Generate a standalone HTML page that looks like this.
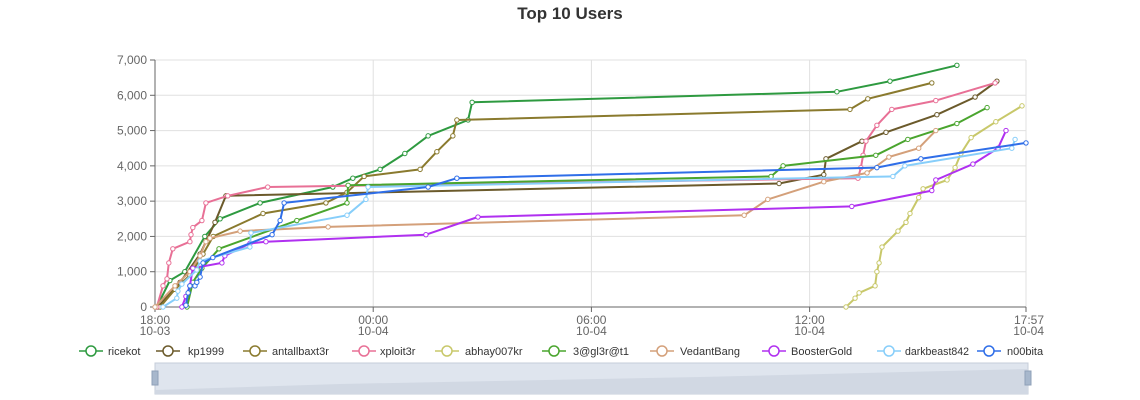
<!DOCTYPE html>
<html><head><meta charset="utf-8"><style>
body{margin:0;background:#fff;font-family:"Liberation Sans",sans-serif}
#wrap{position:relative;width:1140px;height:400px;overflow:hidden}
</style></head><body>
<div id="wrap">
<svg id="svg" width="1140" height="400" xmlns="http://www.w3.org/2000/svg"></svg>
</div>
<script>
const seriesNames=["ricekot","kp1999","antallbaxt3r","xploit3r","abhay007kr","3@gl3r@t1","VedantBang","BoosterGold","darkbeast842","n00bita"];
const seriesColors=["#2e9a40","#6b5a2b","#8a7a2e","#e87096","#c8c86a","#4aa52e","#d4a07a","#b030f0","#87cefa","#2f6ee8"];
const yTicks=[0,1000,2000,3000,4000,5000,6000,7000];
const xTickHours=[0,6,12,18,23.95];
const xTickLabels=[["18:00","10-03"],["00:00","10-04"],["06:00","10-04"],["12:00","10-04"],["17:57","10-04"]];
const hRicekot=[0.05,0.41,0.82,1.37,1.79,2.89,4.89,5.44,6.19,6.87,7.51,8.61,8.72,18.75,20.21,22.05];
const vRicekot=[0,750,1000,2000,2500,2950,3400,3650,3900,4350,4850,5300,5800,6100,6400,6850];
const hKp=[0.08,0.69,1.24,1.65,1.95,17.16,18.39,18.45,19.44,20.1,21.5,22.55,23.15];
const vKp=[0,700,1500,2400,3150,3500,3750,4200,4700,4950,5450,5950,6400];
const hAnt=[0.14,0.55,0.96,1.32,1.6,2.97,4.7,5.28,5.75,7.29,7.75,8.19,8.3,19.11,19.6,21.36];
const vAnt=[0,500,900,1500,2000,2650,2950,3250,3700,3900,4400,4850,5300,5600,5900,6350];
const hXp=[0.05,0.22,0.33,0.38,0.49,0.96,0.99,1.04,1.29,1.4,2.0,3.1,19.33,19.41,19.47,19.55,19.85,20.26,21.47,23.1];
const vXp=[0,600,800,1250,1650,1850,2050,2250,2450,2950,3150,3400,3650,3950,4300,4700,5150,5600,5850,6350];
const hAb=[19.0,19.25,19.36,19.8,19.85,19.91,19.99,20.43,20.65,20.76,21.0,21.12,21.78,22.0,22.16,22.44,23.12,23.84];
const vAb=[0,250,400,600,1000,1250,1700,2150,2400,2650,3100,3350,3600,3950,4350,4800,5250,5700];
const hGl=[0.88,1.04,1.29,1.76,3.9,5.28,5.31,16.94,17.27,19.82,20.7,22.05,22.88];
const vGl=[0,700,1100,1650,2450,2950,3450,3700,4000,4300,4750,5200,5650];
const hVe=[0,0.55,0.96,1.24,1.4,1.51,2.34,4.76,16.2,16.85,18.39,19.58,20.18,21.0,21.47];
const vVe=[0,600,1000,1450,1850,1950,2150,2270,2600,3050,3550,3800,4250,4500,5000];
const hBo=[0.74,0.85,0.96,1.04,1.84,1.92,2.61,3.05,7.45,8.88,19.16,21.36,21.47,22.49,23.18,23.4];
const vBo=[0,300,600,1100,1250,1450,1800,1850,2050,2550,2850,3300,3600,4050,4500,5000];
const hDa=[0.22,0.6,0.63,0.74,1.15,1.24,2.61,2.64,5.28,5.8,5.86,20.29,20.62,23.56,23.65];
const vDa=[0,250,450,650,1050,1300,1700,2100,2600,3050,3400,3700,4000,4500,4750];
const hNo=[0.85,0.91,0.96,1.1,1.15,1.24,1.32,1.59,3.22,3.44,3.55,7.51,8.3,19.85,21.06,23.95];
const vNo=[50,400,600,600,700,850,1250,1400,2050,2450,2950,3400,3650,3950,4200,4650];
const allH=[hRicekot,hKp,hAnt,hXp,hAb,hGl,hVe,hBo,hDa,hNo];
const allV=[vRicekot,vKp,vAnt,vXp,vAb,vGl,vVe,vBo,vDa,vNo];

const L=155,R=1026,T=60,B=307,HMAX=23.95,VMAX=7000;
const xs=h=>L+(R-L)*h/HMAX;
const ys=v=>B-(B-T)*v/VMAX;
const NS="http://www.w3.org/2000/svg";
const svg=document.getElementById('svg');
function mk(tag,attrs,parent){const e=document.createElementNS(NS,tag);for(const k in attrs)e.setAttribute(k,attrs[k]);(parent||svg).appendChild(e);return e;}

let t=mk('text',{x:570,y:19,'text-anchor':'middle','font-size':17,'font-weight':'bold',fill:'#333'});
t.textContent="Top 10 Users";



yTicks.forEach(v=>{
  const y=ys(v);
  const g=mk('line',{x1:L,x2:R,y1:y,y2:y,stroke:'#e0e0e0','stroke-width':1});
  
  
  const tk=mk('line',{x1:L-5,x2:L,y1:y,y2:y,stroke:'#666'});
  
  
  const lb=mk('text',{x:L-8,y:y+4,'text-anchor':'end','font-size':12,fill:'#666'});
  lb.textContent=v.toLocaleString('en-US');
  
  
});
xTickHours.forEach((h,i)=>{
  const x=xs(h);
  if(i>0){const g=mk('line',{x1:x,x2:x,y1:T,y2:B,stroke:'#e0e0e0'});
  
  }
  const tk=mk('line',{x1:x,x2:x,y1:B,y2:B+5,stroke:'#666'});
  
  
  const anchor=i===xTickHours.length-1?'end':'middle';
  const ax=i===xTickHours.length-1?x+18:x;
  const l1=mk('text',{x:ax,y:B+17,'text-anchor':anchor,'font-size':12,fill:'#666'});
  l1.textContent=xTickLabels[i][0];
  
  
  const l2=mk('text',{x:ax,y:B+28,'text-anchor':anchor,'font-size':12,fill:'#666'});
  l2.textContent=xTickLabels[i][1];
  
  
});
const ya=mk('line',{x1:L,x2:L,y1:T,y2:B,stroke:'#666'});


const xa=mk('line',{x1:L,x2:R,y1:B,y2:B,stroke:'#666'});



allH.forEach((hs,si)=>{
  const vs=allV[si],c=seriesColors[si];
  const g=mk('g',{});
  
  
  const pts=hs.map((h,i)=>xs(h).toFixed(1)+','+ys(vs[i]).toFixed(1)).join(' ');
  const pl=mk('polyline',{points:pts,fill:'none',stroke:c,'stroke-width':2,'stroke-linejoin':'round'},g);
  
  
  hs.forEach((h,i)=>{
    const p=mk('circle',{cx:xs(h),cy:ys(vs[i]),r:2.2,fill:'#fff',stroke:c,'stroke-width':1},g);
    
    
  });
});

const legIcon=[79,156,243,352,435,542,650,762,877,977];
const legText=[108,188,272,380,465,573,680,791,905,1007];
seriesNames.forEach((n,i)=>{
  const g=mk('g',{});
  
  
  const ln=mk('line',{x1:legIcon[i],x2:legIcon[i]+24,y1:351,y2:351,stroke:seriesColors[i],'stroke-width':1.5},g);
  
  
  const ci=mk('circle',{cx:legIcon[i]+12,cy:351,r:5,fill:'#fff',stroke:seriesColors[i],'stroke-width':1.5},g);
  
  
  const tx=mk('text',{x:legText[i],y:355,'font-size':11,fill:'#333'},g);
  tx.textContent=n;
  const maxW=(i<legIcon.length-1?legIcon[i+1]:1060)-legText[i]-8;
  
  
  document.fonts && 0;
  const w=tx.getComputedTextLength();
  if(w>maxW){tx.setAttribute('textLength',maxW);tx.setAttribute('lengthAdjust','spacingAndGlyphs');}
});

const dz=mk('g',{});


const bg=mk('rect',{x:155,y:363,width:873,height:31,fill:'#dfe5ee',stroke:'#c5cdd9'},dz);


const sh=mk('path',{d:'M155,390 L340,384 L700,377 L1028,369 L1028,394 L155,394 Z',fill:'#d1d8e3'},dz);


[155,1028].forEach((x,i)=>{
  const h=mk('rect',{x:x-3,y:371,width:6,height:14,fill:'#a7b7cc',stroke:'#8fa0b8'},dz);
  
  
});
</script>
</body></html>
